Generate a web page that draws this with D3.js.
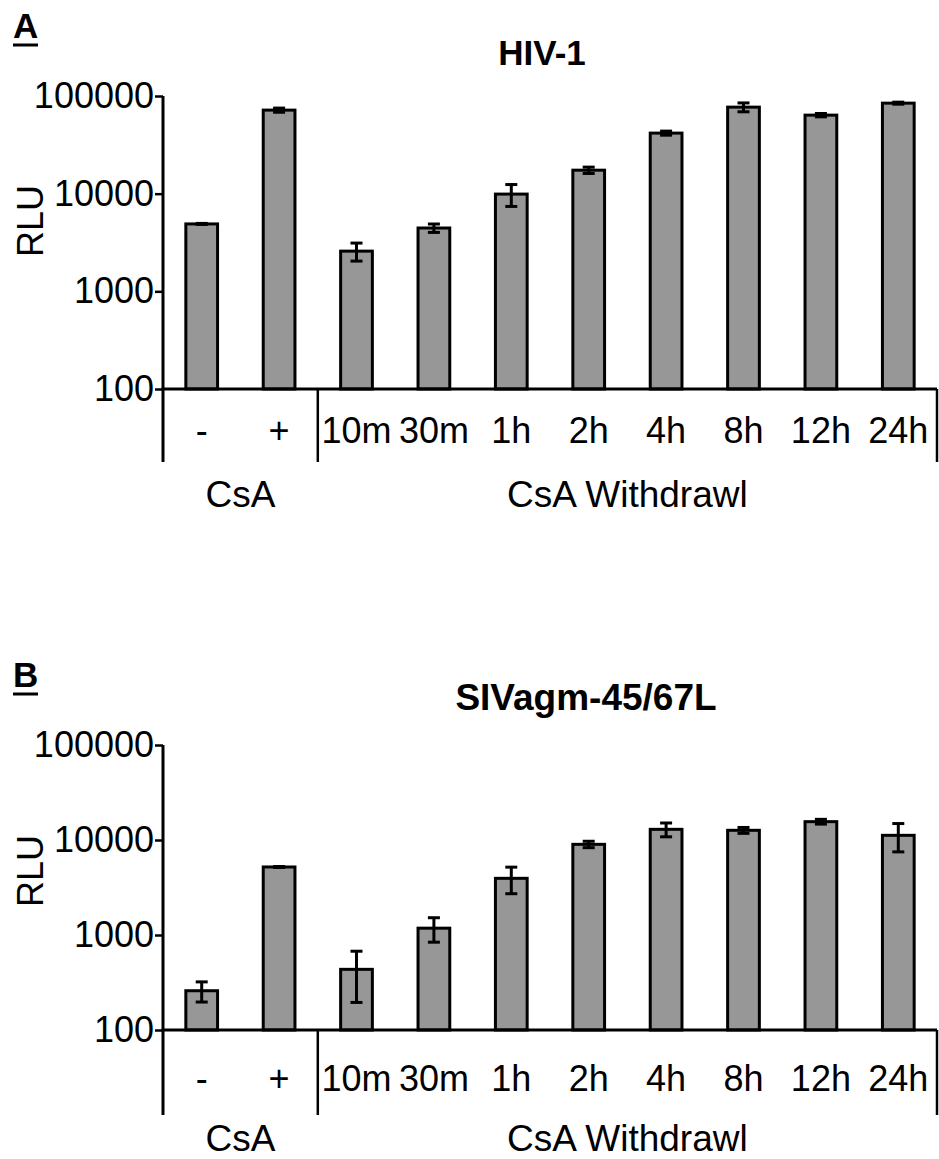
<!DOCTYPE html>
<html>
<head>
<meta charset="utf-8">
<script src="https://cdn.jsdelivr.net/npm/d3@7"></script>
<style>
body { margin: 0; background: #fff; }
svg { font-family: "Liberation Sans", Arial, sans-serif; }
</style>
</head>
<body>
<div id="chart"></div>
<script>
const categories = ["-", "+", "10m", "30m", "1h", "2h", "4h", "8h", "12h", "24h"];
const groups = [
	{ name: "CsA", first: "-", last: "+" },
	{ name: "CsA Withdrawl", first: "10m", last: "24h" }
];
const yTicks = [100, 1000, 10000, 100000];

// RLU means and error
const hivValues = [4900, 71700, 2580, 4450, 9900, 17400, 41700, 76900, 63700, 84500];
const hivErrors = [60, 3500, 540, 440, 2500, 1300, 2000, 8000, 2500, 2000];
const sivValues = [259, 5200, 435, 1180, 3950, 9000, 12950, 12650, 15600, 11200];
const sivErrors = [62, 60, 240, 340, 1230, 700, 2150, 900, 900, 3700];

const width = 939;
const height = 1159;

const svg = d3.select("#chart").append("svg")
	.attr("width", width)
	.attr("height", height);

const x = d3.scaleBand()
	.domain(categories)
	.range([163, 937])
	.paddingInner(0.59)
	.paddingOuter(0.295);

function drawPanel(p) {
	const g = svg.append("g");
	const y = d3.scaleLog().domain([100, 100000]).range([p.base, p.top]);

	// panel letter, underlined
	g.append("text")
		.attr("x", 13)
		.attr("y", p.letterY)
		.attr("font-size", 35)
		.attr("font-weight", "bold")
		.text(p.letter);
	g.append("line")
		.attr("x1", 13).attr("x2", 38)
		.attr("y1", p.letterY + 7).attr("y2", p.letterY + 7)
		.attr("stroke", "#000").attr("stroke-width", 3);

	g.append("text")
		.attr("x", p.titleX)
		.attr("y", p.titleY)
		.attr("text-anchor", "middle")
		.attr("font-size", p.titleSize)
		.attr("font-weight", "bold")
		.text(p.title);

	g.append("text")
		.attr("transform", `translate(43,${p.rluY}) rotate(-90)`)
		.attr("text-anchor", "middle")
		.attr("font-size", 36)
		.text("RLU");

	// bars
	g.selectAll("rect.bar")
		.data(p.values)
		.join("rect")
		.attr("class", "bar")
		.attr("x", (d, i) => x(categories[i]))
		.attr("width", x.bandwidth())
		.attr("y", d => y(d))
		.attr("height", d => y(100) - y(d))
		.attr("fill", "#979797")
		.attr("stroke", "#000")
		.attr("stroke-width", 3);

	// error bars
	const err = g.append("g")
		.attr("stroke", "#000")
		.attr("stroke-width", 3)
		.selectAll("g")
		.data(p.values.map((v, i) => ({ v, e: p.errors[i], c: categories[i] })))
		.join("g")
		.attr("transform", d => `translate(${x(d.c) + x.bandwidth() / 2},0)`);
	err.append("line")
		.attr("y1", d => y(d.v - d.e)).attr("y2", d => y(d.v + d.e));
	err.append("line")
		.attr("x1", -6).attr("x2", 6)
		.attr("y1", d => y(d.v + d.e)).attr("y2", d => y(d.v + d.e));
	err.append("line")
		.attr("x1", -6).attr("x2", 6)
		.attr("y1", d => y(d.v - d.e)).attr("y2", d => y(d.v - d.e));

	// y axis
	const yAxis = g.append("g")
		.attr("transform", "translate(163,0)")
		.call(d3.axisLeft(y)
			.tickValues(yTicks)
			.tickFormat(d3.format("d"))
			.tickSize(8)
			.tickSizeOuter(0)
			.tickPadding(1));
	yAxis.select(".domain").remove();
	yAxis.selectAll(".tick line").attr("stroke-width", 2.5);
	yAxis.selectAll(".tick text")
		.attr("font-size", 36)
		.attr("font-family", "Liberation Sans, Arial, sans-serif")
		.attr("fill", "#000");

	const [x0, x1] = x.range();
	g.append("line")
		.attr("x1", x0).attr("x2", x0)
		.attr("y1", p.top).attr("y2", p.lineEnd)
		.attr("stroke", "#000").attr("stroke-width", 3);
	g.append("line")
		.attr("x1", x0 - 1.5).attr("x2", x1)
		.attr("y1", y(100)).attr("y2", y(100))
		.attr("stroke", "#000").attr("stroke-width", 3);

	// category labels
	g.selectAll("text.cat")
		.data(categories)
		.join("text")
		.attr("class", "cat")
		.attr("x", d => x(d) + x.bandwidth() / 2)
		.attr("y", p.catY)
		.attr("text-anchor", "middle")
		.attr("font-size", 36)
		.text(d => d);

	// group brackets and labels
	const step = x.step();
	const bounds = groups.map(gr => ({
		name: gr.name,
		a: x(gr.first) - x.paddingOuter() * step,
		b: x(gr.last) + x.bandwidth() + x.paddingOuter() * step
	}));
	g.selectAll("line.sep")
		.data(bounds.map(b => b.b))
		.join("line")
		.attr("class", "sep")
		.attr("x1", d => d).attr("x2", d => d)
		.attr("y1", y(100)).attr("y2", p.lineEnd)
		.attr("stroke", "#000").attr("stroke-width", 2.5);
	g.selectAll("text.grp")
		.data(bounds)
		.join("text")
		.attr("class", "grp")
		.attr("x", d => (d.a + d.b) / 2)
		.attr("y", p.groupY)
		.attr("text-anchor", "middle")
		.attr("font-size", 37)
		.text(d => d.name);
}

drawPanel({
	letter: "A", title: "HIV-1", titleSize: 35, titleX: 542, titleY: 65,
	values: hivValues, errors: hivErrors,
	top: 96, base: 389, letterY: 38, rluY: 221,
	catY: 443, lineEnd: 462, groupY: 507
});

drawPanel({
	letter: "B", title: "SIVagm-45/67L", titleSize: 37, titleX: 586, titleY: 710,
	values: sivValues, errors: sivErrors,
	top: 745, base: 1030, letterY: 687, rluY: 871,
	catY: 1091, lineEnd: 1115, groupY: 1151
});
</script>
</body>
</html>
